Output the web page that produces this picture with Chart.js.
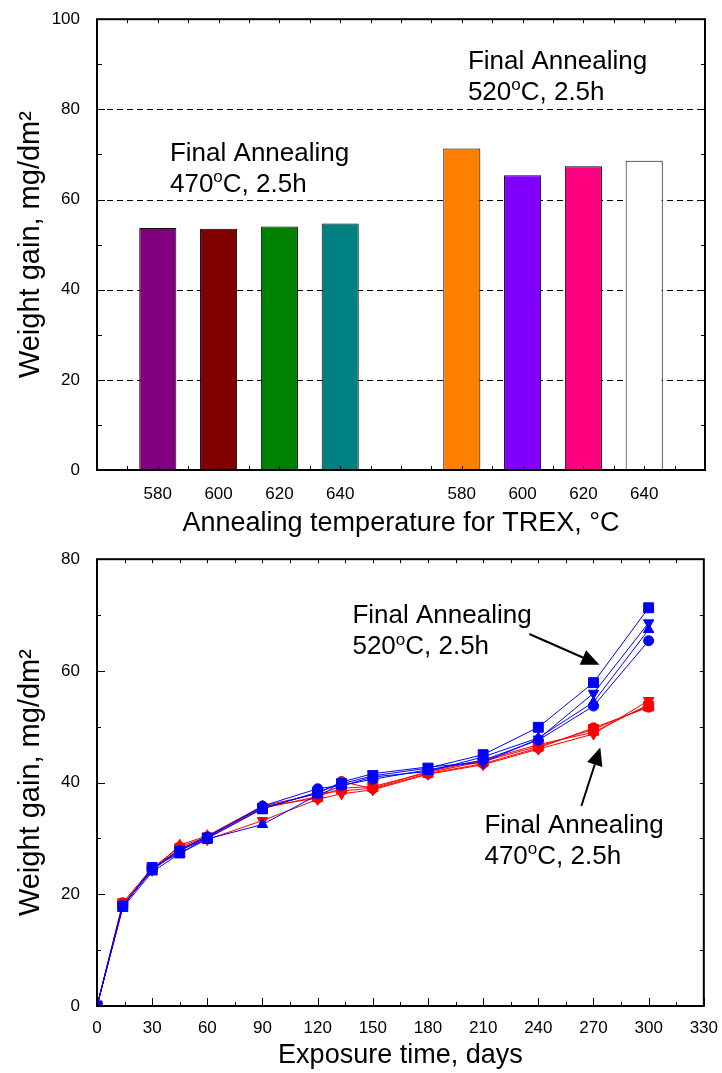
<!DOCTYPE html>
<html><head><meta charset="utf-8">
<script src="https://cdn.jsdelivr.net/npm/chart.js@4.4.0/dist/chart.umd.min.js"></script>
<style>
html,body{margin:0;padding:0;background:#fff;}
#wrap{position:relative;width:722px;height:1073px;overflow:hidden;}
canvas{display:block;}
</style></head><body>
<div id="wrap">
<canvas id="c1" width="722" height="540"></canvas>
<canvas id="c2" width="722" height="533"></canvas>
</div>
<script>
const FONT = '"Liberation Sans", Arial, Helvetica, sans-serif';

// ---------- Top chart data ----------
const trexTemps = ['580', '600', '620', '640'];
const gain470 = [53.7, 53.5, 54.0, 54.7];
const gain520 = [71.3, 65.4, 67.4, 68.6];
const colors470 = ['#800080', '#800000', '#008000', '#008080'];
const colors520 = ['#FF8000', '#8000FF', '#FF0080', '#FFFFFF'];
const barYTicks = [0, 20, 40, 60, 80, 100];
const barGrid = [20, 40, 60, 80];

// ---------- Bottom chart data ----------
const days = [0, 14, 30, 45, 60, 90, 120, 133, 150, 180, 210, 240, 270, 300];
const blue580 = [0, 17.8, 24.8, 27.4, 30.0, 35.3, 38.3, 39.8, 41.2, 42.6, 45.0, 49.9, 57.9, 71.3];
const blue600 = [0, 18.0, 24.4, 27.8, 30.2, 35.8, 38.9, 39.5, 40.6, 42.3, 44.0, 47.6, 53.7, 65.4];
const blue620 = [0, 17.6, 24.0, 27.3, 29.9, 32.5, 37.8, 39.4, 41.0, 42.0, 44.6, 48.0, 54.4, 67.4];
const blue640 = [0, 17.9, 24.5, 28.0, 30.4, 35.5, 38.1, 40.1, 41.6, 42.8, 43.6, 47.8, 56.0, 68.6];
const red580 = [0, 18.3, 24.5, 28.2, 30.1, 35.4, 37.5, 39.0, 39.3, 41.8, 43.8, 46.5, 49.5, 53.7];
const red600 = [0, 18.5, 24.7, 28.5, 30.3, 35.7, 37.2, 40.2, 38.9, 41.6, 43.4, 46.2, 49.8, 53.5];
const red620 = [0, 18.2, 24.2, 28.8, 30.5, 35.8, 38.0, 38.5, 39.0, 42.0, 44.0, 46.8, 49.0, 54.0];
const red640 = [0, 18.0, 24.3, 28.0, 29.8, 33.2, 37.0, 38.0, 38.7, 41.5, 43.2, 46.0, 48.7, 54.7];
const dayTicks = [0, 30, 60, 90, 120, 150, 180, 210, 240, 270, 300, 330];
const lineYTicks = [0, 20, 40, 60, 80];

// ---------- helpers ----------
function seq(a, b, s) { const r = []; for (let v = a; v <= b + 1e-9; v += s) r.push(v); return r; }
function ticksX(ctx, scale, area, vals, len, side) {
  ctx.beginPath();
  vals.forEach(v => {
    const p = Math.round(scale.getPixelForValue(v)) + 0.5;
    if (side === 'bottom') { ctx.moveTo(p, area.bottom); ctx.lineTo(p, area.bottom - len); }
    else { ctx.moveTo(p, area.top); ctx.lineTo(p, area.top + len); }
  });
  ctx.stroke();
}
function ticksY(ctx, scale, area, vals, len, side) {
  ctx.beginPath();
  vals.forEach(v => {
    const p = Math.round(scale.getPixelForValue(v)) + 0.5;
    if (side === 'left') { ctx.moveTo(area.left, p); ctx.lineTo(area.left + len, p); }
    else { ctx.moveTo(area.right, p); ctx.lineTo(area.right - len, p); }
  });
  ctx.stroke();
}
function frame(ctx, area) {
  ctx.save();
  ctx.strokeStyle = '#000'; ctx.lineWidth = 2;
  ctx.strokeRect(area.left, area.top, area.right - area.left, area.bottom - area.top);
  ctx.restore();
}
function label(ctx, px, py, n) {
  // two-line annotation, second line with superscript "o"
  ctx.save();
  ctx.fillStyle = '#000';
  ctx.textBaseline = 'alphabetic';
  ctx.textAlign = 'left';
  ctx.font = '26px ' + FONT;
  ctx.fillText(n.title, px, py);
  const y2 = py + 31;
  ctx.fillText(n.temp, px, y2);
  let w = ctx.measureText(n.temp).width;
  ctx.font = '17px ' + FONT;
  ctx.fillText('o', px + w, y2 - 9.5);
  const wo = ctx.measureText('o').width;
  ctx.font = '26px ' + FONT;
  ctx.fillText(n.rest, px + w + wo, y2);
  ctx.restore();
}
function arrow(ctx, x1, y1, x2, y2) {
  const ang = Math.atan2(y2 - y1, x2 - x1);
  const hl = 18, hw = 8;
  const bx = x2 - hl * Math.cos(ang), by = y2 - hl * Math.sin(ang);
  ctx.save();
  ctx.strokeStyle = '#000'; ctx.fillStyle = '#000'; ctx.lineWidth = 2;
  ctx.beginPath(); ctx.moveTo(x1, y1); ctx.lineTo(bx, by); ctx.stroke();
  ctx.beginPath();
  ctx.moveTo(x2, y2);
  ctx.lineTo(bx + hw * Math.sin(ang), by - hw * Math.cos(ang));
  ctx.lineTo(bx - hw * Math.sin(ang), by + hw * Math.cos(ang));
  ctx.closePath(); ctx.fill();
  ctx.restore();
}

// ---------- Top chart ----------
const slotLabels = [''].concat(trexTemps, [''], trexTemps, ['']);
const barValues = [null].concat(gain470, [null], gain520, [null]);
const barColors = ['#fff'].concat(colors470, ['#fff'], colors520, ['#fff']);
const topNotes = [
  { x: 1.2, y: 68.6, title: 'Final Annealing', temp: '470', rest: 'C, 2.5h' },
  { x: 6.1, y: 89.0, title: 'Final Annealing', temp: '520', rest: 'C, 2.5h' }
];

const topPlugin = {
  id: 'topPlugin',
  beforeDatasetsDraw(chart) {
    const { ctx, chartArea: a, scales: { y } } = chart;
    ctx.save();
    ctx.strokeStyle = '#000'; ctx.lineWidth = 1; ctx.setLineDash([6, 4]);
    ctx.beginPath();
    barGrid.forEach(v => {
      const p = Math.round(y.getPixelForValue(v)) + 0.5;
      ctx.moveTo(a.left, p); ctx.lineTo(a.right, p);
    });
    ctx.stroke();
    ctx.restore();
  },
  afterDraw(chart) {
    const { ctx, chartArea: a, scales: { x, y } } = chart;
    ctx.save();
    ctx.strokeStyle = '#000'; ctx.lineWidth = 1;
    const half = seq(0.5, slotLabels.length - 1.5, 0.5);
    ticksX(ctx, x, a, half, 4, 'bottom');
    ticksX(ctx, x, a, half, 4, 'top');
    ticksY(ctx, y, a, barYTicks, 8, 'left');
    ticksY(ctx, y, a, seq(10, 90, 20), 5, 'left');
    ticksY(ctx, y, a, seq(10, 90, 10), 4, 'right');
    ctx.restore();
    frame(ctx, a);
    topNotes.forEach(n => label(ctx, x.getPixelForValue(n.x), y.getPixelForValue(n.y), n));
  }
};

new Chart(document.getElementById('c1'), {
  type: 'bar',
  data: {
    labels: slotLabels,
    datasets: [{
      data: barValues,
      backgroundColor: barColors,
      borderColor: '#000',
      borderWidth: 1,
      categoryPercentage: 1,
      barPercentage: 0.61
    }]
  },
  options: {
    responsive: false,
    animation: false,
    devicePixelRatio: 1,
    layout: { padding: { top: 15, right: 17, left: 0, bottom: 0 } },
    plugins: { legend: { display: false }, tooltip: { enabled: false } },
    scales: {
      x: {
        type: 'category',
        offset: false,
        grid: { display: false },
        border: { display: false },
        ticks: { color: '#000', font: { size: 17, family: FONT }, padding: 6, autoSkip: false, maxRotation: 0 },
        title: { display: true, text: 'Annealing temperature for TREX, °C', color: '#000', font: { size: 27, family: FONT }, padding: { top: 0, bottom: 0 } },
        afterFit(s) { s.height = 70; }
      },
      y: {
        min: 0, max: 100,
        grid: { display: false },
        border: { display: false },
        ticks: { stepSize: 20, color: '#000', font: { size: 17, family: FONT }, padding: 9 },
        title: { display: true, text: 'Weight gain, mg/dm²', color: '#000', font: { size: 29, family: FONT }, padding: { top: 14, bottom: 0 } },
        afterFit(s) { s.width = 97; }
      }
    }
  },
  plugins: [topPlugin]
});

// ---------- Bottom chart ----------
const bottomNotes = [
  { x: 138.9, y: 68.5, title: 'Final Annealing', temp: '520', rest: 'C, 2.5h' },
  { x: 210.7, y: 31.0, title: 'Final Annealing', temp: '470', rest: 'C, 2.5h' }
];
const bottomArrows = [
  { x1: 235.1, y1: 66.6, x2: 273.2, y2: 61.1 },
  { x1: 263.4, y1: 35.8, x2: 273.7, y2: 46.3 }
];

const bottomPlugin = {
  id: 'bottomPlugin',
  afterDraw(chart) {
    const { ctx, chartArea: a, scales: { x, y } } = chart;
    ctx.save();
    ctx.strokeStyle = '#000'; ctx.lineWidth = 1;
    ticksX(ctx, x, a, dayTicks, 8, 'bottom');
    ticksX(ctx, x, a, seq(15, 315, 30), 4, 'bottom');
    ticksX(ctx, x, a, seq(15, 315, 15), 4, 'top');
    ticksY(ctx, y, a, lineYTicks, 8, 'left');
    ticksY(ctx, y, a, seq(10, 70, 20), 4, 'left');
    ticksY(ctx, y, a, seq(10, 70, 10), 4, 'right');
    ctx.restore();
    frame(ctx, a);
    bottomNotes.forEach(n => label(ctx, x.getPixelForValue(n.x), y.getPixelForValue(n.y), n));
    bottomArrows.forEach(r => arrow(ctx, x.getPixelForValue(r.x1), y.getPixelForValue(r.y1), x.getPixelForValue(r.x2), y.getPixelForValue(r.y2)));
  }
};

function series(vals, color, style, radius, rot) {
  return {
    data: days.map((d, i) => ({ x: d, y: vals[i] })),
    borderColor: color,
    backgroundColor: color,
    borderWidth: 1,
    pointStyle: style,
    pointRadius: radius,
    pointRotation: rot || 0,
    pointBorderWidth: 1,
    pointBackgroundColor: color,
    pointBorderColor: color,
    tension: 0,
    fill: false
  };
}
const BLUE = '#0000FF', RED = '#FF0000';

new Chart(document.getElementById('c2'), {
  type: 'line',
  data: {
    datasets: [
      series(blue580, BLUE, 'rect', 7),
      series(blue620, BLUE, 'triangle', 6),
      series(blue640, BLUE, 'triangle', 6, 180),
      series(blue600, BLUE, 'circle', 5),
      series(red580, RED, 'rect', 7),
      series(red620, RED, 'triangle', 6),
      series(red640, RED, 'triangle', 6, 180),
      series(red600, RED, 'circle', 5)
    ]
  },
  options: {
    responsive: false,
    animation: false,
    devicePixelRatio: 1,
    layout: { padding: { top: 12.5, right: 17, left: 0, bottom: 0 } },
    plugins: { legend: { display: false }, tooltip: { enabled: false } },
    scales: {
      x: {
        type: 'linear',
        min: 0, max: 330,
        grid: { display: false },
        border: { display: false },
        ticks: { stepSize: 30, color: '#000', font: { size: 17, family: FONT }, padding: 4, autoSkip: false, maxRotation: 0 },
        title: { display: true, text: 'Exposure time, days', color: '#000', font: { size: 27, family: FONT }, padding: { top: 0, bottom: 1 } },
        afterFit(s) { s.height = 67; }
      },
      y: {
        min: 0, max: 80,
        grid: { display: false },
        border: { display: false },
        ticks: { stepSize: 20, color: '#000', font: { size: 17, family: FONT }, padding: 9 },
        title: { display: true, text: 'Weight gain, mg/dm²', color: '#000', font: { size: 29, family: FONT }, padding: { top: 14, bottom: 0 } },
        afterFit(s) { s.width = 97; }
      }
    }
  },
  plugins: [bottomPlugin]
});
</script>
</body></html>
